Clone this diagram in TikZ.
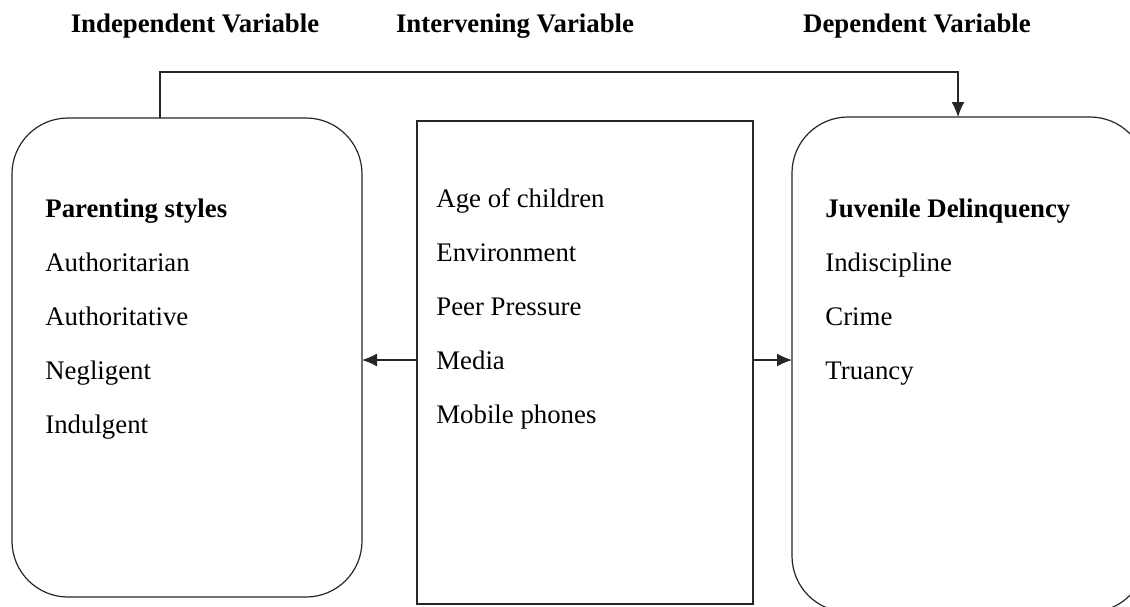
\documentclass[tikz,border=0pt]{standalone}
\usepackage{fontspec}
\setmainfont{Liberation Serif}
\usepackage{tikz}
\usetikzlibrary{arrows.meta}

\begin{document}
\begin{tikzpicture}[x=0.5pt, y=-0.5pt,
  every node/.style={font=\fontsize{13.4}{16}\selectfont},
  varbox/.style={draw=black!85, line width=0.6pt, inner sep=0pt, outer sep=0pt},
  item/.style={anchor=base west, inner sep=0pt},
  head/.style={anchor=base, inner sep=0pt, font=\fontsize{13.4}{16}\selectfont\bfseries},
  link/.style={draw=black!85, line width=0.6pt, -{Latex[length=7.5pt,width=6.5pt]}}]
\useasboundingbox (0,0) rectangle (1130,606);

% headings
\node[head] (hind) at (195,32) {Independent Variable};
\node[head] (hint) at (515,32) {Intervening Variable};
\node[head] (hdep) at (917,32) {Dependent Variable};

% the three boxes
\node[varbox, rounded corners=28pt, minimum width=175pt, minimum height=239.5pt] (ind) at (187,357.5) {};
\node[varbox, minimum width=168pt, minimum height=241.5pt] (mid) at (585,362.5) {};
\node[varbox, rounded corners=28pt, minimum width=177pt, minimum height=247.5pt] (dep) at (969,364.5) {};

% independent variable
\node[item] (ps) at (45,217) {\bfseries Parenting styles};
\node[item] (ps1) at (45,271) {Authoritarian};
\node[item] (ps2) at (45,325) {Authoritative};
\node[item] (ps3) at (45,379) {Negligent};
\node[item] (ps4) at (45,433) {Indulgent};

% intervening variable
\node[item] (iv1) at (436,207) {Age of children};
\node[item] (iv2) at (436,261) {Environment};
\node[item] (iv3) at (436,315) {Peer Pressure};
\node[item] (iv4) at (436,369) {Media};
\node[item] (iv5) at (436,423) {Mobile phones};

% dependent variable
\node[item] (jd) at (825,217) {\bfseries Juvenile Delinquency};
\node[item] (jd1) at (825,271) {Indiscipline};
\node[item] (jd2) at (825,325) {Crime};
\node[item] (jd3) at (825,379) {Truancy};

\coordinate (upL) at (160,72);
\coordinate (upR) at (958,72);
\coordinate (side) at (0,360);

\draw[link] (ind.north -| upL) -- (upL) -- (upR) -- (dep.north -| upR);
\draw[link] (mid.west |- side) -- (ind.east |- side);
\draw[link] (mid.east |- side) -- (dep.west |- side);
\end{tikzpicture}
\end{document}
